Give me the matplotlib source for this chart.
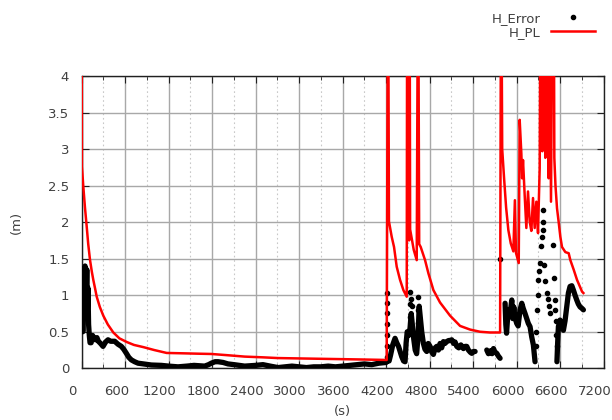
import numpy as np
import matplotlib.pyplot as plt
from matplotlib.lines import Line2D
from matplotlib.ticker import MultipleLocator, FormatStrFormatter
from matplotlib.transforms import ScaledTranslation

nan = np.nan

# H_PL (red line), values above 4 run off the top of the plot
pl_t = [0, 3, 22, 45, 69, 90, 115, 140, 160, 185, 207, 250, 298, 360, 436, 520, 621, 720, 850,
        1000, 1172, 1400, 1600, 1788, 2000, 2248, 2500, 2708, 3000, 3300, 3600, 3900, 4207,
        4225, 4238, 4276, 4308, 4345, 4391, 4437, 4483, 4490, 4500, 4508, 4516, 4522, 4530,
        4580, 4621, 4640, 4655, 4676, 4736, 4782, 4851, 4943, 5081, 5219, 5357, 5495, 5630,
        5771, 5785, 5800, 5826, 5854, 5885, 5918, 5954, 5975, 5990, 6028, 6041, 6064, 6075,
        6087, 6110, 6133, 6156, 6179, 6202, 6225, 6248, 6271, 6294, 6317, 6331, 6354, 6372,
        6395, 6418, 6441, 6450, 6473, 6497, 6510, 6519, 6535, 6556, 6579, 6602, 6625, 6671,
        6717, 6740, 6786, 6832, 6901, 6920]
pl_v = [4.5, 2.76, 2.49, 2.2, 1.94, 1.70, 1.48, 1.32, 1.21, 1.09, 0.98, 0.84, 0.72, 0.60, 0.49,
        0.41, 0.36, 0.32, 0.29, 0.25, 0.21, 0.205, 0.20, 0.196, 0.18, 0.16, 0.15, 0.14, 0.135,
        0.13, 0.125, 0.12, 0.114,
        6, 2.01, 1.80, 1.66, 1.39, 1.21, 1.07, 0.98, 6, 2.9, 6, 1.75, 6, 1.90,
        1.62, 1.48, 6, 1.70, 1.66, 1.48, 1.30, 1.07, 0.90, 0.72, 0.58, 0.53, 0.50, 0.49,
        0.49, 6, 3.0, 2.6, 2.2, 1.89, 1.71, 1.60, 2.3, 1.58, 1.44, 3.40, 2.94, 2.6,
        2.85, 2.37, 1.92, 2.42, 2.01, 1.88, 2.33, 1.92, 2.28, 1.85, 2.74, 6, 2.97, 6,
        2.88, 6, 2.6, 6, 2.28, 6, 6, 2.88, 2.5, 2.19, 2.0, 1.80, 1.66, 1.59,
        1.575, 1.48, 1.35, 1.21, 1.05, 1.03]

# H_Error dense runs (nan = gap)
err_t = [0, 8, 15, 22, 30, 38, 46, 55, 62, 70, 78, 86, 95, 105, 115, 130, 150, 170, 190, 210,
         230, 260, 294, 330, 363, 400, 455, 500, 547, 580, 616, 650, 685, 730, 777, 850, 961,
         1100, 1200, 1329, 1450, 1550, 1696, 1750, 1788, 1840, 1880, 1950, 2018, 2100, 2248,
         2400, 2500, 2600, 2708, 2800, 2900, 3000, 3100, 3200, 3300, 3400, 3500, 3600, 3700,
         3800, 3900, 4000, 4100, 4200, nan,
         4240, 4260, 4290, 4322, 4345, 4370, 4395, 4414, 4440, 4460, 4475, 4490, 4510, 4529,
         4545, 4560, 4580, 4600, 4620, 4640, 4655, 4670, 4690, 4713, 4735, 4759, 4780, 4805,
         4830, 4851, 4875, 4897, 4920, 4943, 4965, 4989, 5010, 5035, 5060, 5081, 5104, 5130,
         5150, 5173, 5200, 5230, 5265, 5290, 5311, 5334, 5360, 5380, 5405, 5426, nan,
         5587, 5610, 5640, 5660, 5680, 5700, 5725, 5745, 5771, nan,
         5840, 5850, 5860, 5875, 5890, 5909, 5932, 5945, 5960, 5975, 6000, 6020, 6046, 6070,
         6090, 6115, 6138, 6160, 6184, 6207, 6230, 6253, nan,
         6555, 6565, 6575, 6598, 6620, 6644, 6667, 6690, 6713, 6736, 6760, 6782, 6805, 6828,
         6850, 6874, 6900, 6920]
err_v = [0.6, 1.1, 0.5, 1.0, 0.7, 1.2, 1.40, 1.30, 1.0, 1.35, 0.8, 1.1, 0.6, 0.45, 0.35, 0.35,
         0.45, 0.40, 0.39, 0.42, 0.37, 0.34, 0.30, 0.36, 0.39, 0.37, 0.37, 0.33, 0.30, 0.26,
         0.205, 0.15, 0.115, 0.09, 0.07, 0.06, 0.045, 0.04, 0.03, 0.02, 0.03, 0.04, 0.03, 0.05,
         0.07, 0.09, 0.09, 0.08, 0.06, 0.05, 0.03, 0.04, 0.05, 0.03, 0.01, 0.02, 0.03, 0.02,
         0.01, 0.02, 0.02, 0.03, 0.02, 0.03, 0.04, 0.05, 0.06, 0.05, 0.07, 0.08, nan,
         0.10, 0.18, 0.32, 0.41, 0.35, 0.30, 0.22, 0.16, 0.10, 0.09, 0.35, 0.50, 0.45, 0.55,
         0.75, 0.60, 0.40, 0.25, 0.20, 0.45, 0.85, 0.70, 0.50, 0.34, 0.26, 0.23, 0.34, 0.30,
         0.22, 0.19, 0.28, 0.30, 0.25, 0.34, 0.28, 0.365, 0.34, 0.365, 0.38, 0.38, 0.39, 0.34,
         0.36, 0.30, 0.28, 0.32, 0.27, 0.30, 0.30, 0.25, 0.22, 0.205, 0.23, 0.23, nan,
         0.25, 0.20, 0.24, 0.20, 0.27, 0.22, 0.205, 0.17, 0.137, nan,
         0.89, 0.60, 0.48, 0.70, 0.80, 0.75, 0.935, 0.68, 0.84, 0.70, 0.615, 0.58, 0.80, 0.89,
         0.82, 0.75, 0.68, 0.615, 0.57, 0.43, 0.32, 0.09, nan,
         0.09, 0.35, 0.57, 0.66, 0.60, 0.52, 0.65, 0.84, 1.03, 1.12, 1.13, 1.07, 1.00, 0.935,
         0.88, 0.84, 0.82, 0.80]

# H_Error isolated points (sparse jumps)
dot_t = [4207, 4207, 4207, 4207, 4207, 4207, 4207, 4529, 4529, 4529, 4540, 4550, 4644, 4644,
         4644, 4644, 5771, 6260, 6265, 6276, 6290, 6299, 6310, 6322, 6335, 6345, 6359, 6362,
         6368, 6380, 6395, 6414, 6430, 6445, 6460, 6506, 6515, 6529, 6535, 6540, 6545, 6550]
dot_v = [0.15, 0.30, 0.45, 0.60, 0.75, 0.90, 1.03, 0.70, 0.88, 1.05, 0.95, 0.85, 0.98, 0.80,
         0.62, 0.45, 1.50, 0.30, 0.50, 0.80, 1.00, 1.21, 1.33, 1.44, 1.67, 1.80, 1.89, 2.00,
         2.17, 1.42, 1.20, 1.03, 0.95, 0.85, 0.75, 1.69, 1.23, 0.93, 0.80, 0.65, 0.45, 0.30]

x_ticks = list(range(0, 7201, 600))
y_ticks = [0, 0.5, 1, 1.5, 2, 2.5, 3, 3.5, 4]

fig = plt.figure(figsize=(6.12, 4.2), dpi=100)
ax = fig.add_axes([81.7 / 612, 1 - 368.3 / 420, (603.7 - 81.7) / 612, (368.3 - 76) / 420])

ax.plot(err_t, err_v, color='black', lw=3.8, solid_capstyle='round', zorder=3)
ax.plot(dot_t, dot_v, 'o', color='black', ms=3.0, zorder=3)
ax.plot(pl_t, pl_v, color='#ff0000', lw=1.8, zorder=4)

ax.set_xlim(0, 7200)
ax.set_ylim(0, 4)
ax.set_xticks(x_ticks)
ax.set_yticks(y_ticks)
ax.xaxis.set_minor_locator(MultipleLocator(300))
ax.yaxis.set_major_formatter(FormatStrFormatter('%g'))

ax.grid(which='major', color='#a8a8a8', lw=1.0, ls='-')
ax.grid(which='minor', axis='x', color='#c8c8c8', lw=0.8, ls=(0, (1.5, 2.5)))
ax.set_axisbelow(True)

ax.tick_params(which='both', direction='in', top=True, right=True, colors='#202020',
               labelcolor='#404040', labelsize=9.5)
ax.tick_params(which='major', length=5)
ax.tick_params(which='minor', length=3)
ax.tick_params(axis='x', pad=12)
ax.tick_params(axis='y', pad=9)
for sp in ax.spines.values():
    sp.set_color('#202020')
    sp.set_linewidth(1.0)

# gnuplot puts x labels a bit left of the ticks
off = ScaledTranslation(-9 / 100, 0, fig.dpi_scale_trans)
for lab in ax.get_xticklabels():
    lab.set_transform(lab.get_transform() + off)

fig.text(342 / 612, 1 - 412 / 420, '(s)', ha='center', va='center', fontsize=9.5, color='#404040')
fig.text(16 / 612, 1 - 222 / 420, '(m)', ha='center', va='center', rotation=90,
         fontsize=9.5, color='#404040')

handles = [Line2D([], [], ls='none', marker='o', color='black', ms=3.0),
           Line2D([], [], color='#ff0000', lw=1.8)]
leg = ax.legend(handles, ['H_Error', 'H_PL'], loc='upper right', frameon=False,
                markerfirst=False, bbox_to_anchor=(595 / 612, 1 - 12 / 420),
                bbox_transform=fig.transFigure, borderaxespad=0, borderpad=0,
                handlelength=3.3, handletextpad=0.8, labelspacing=0.05, fontsize=9.5)
for t in leg.get_texts():
    t.set_color('#404040')

fig.savefig('out.png', dpi=100)
